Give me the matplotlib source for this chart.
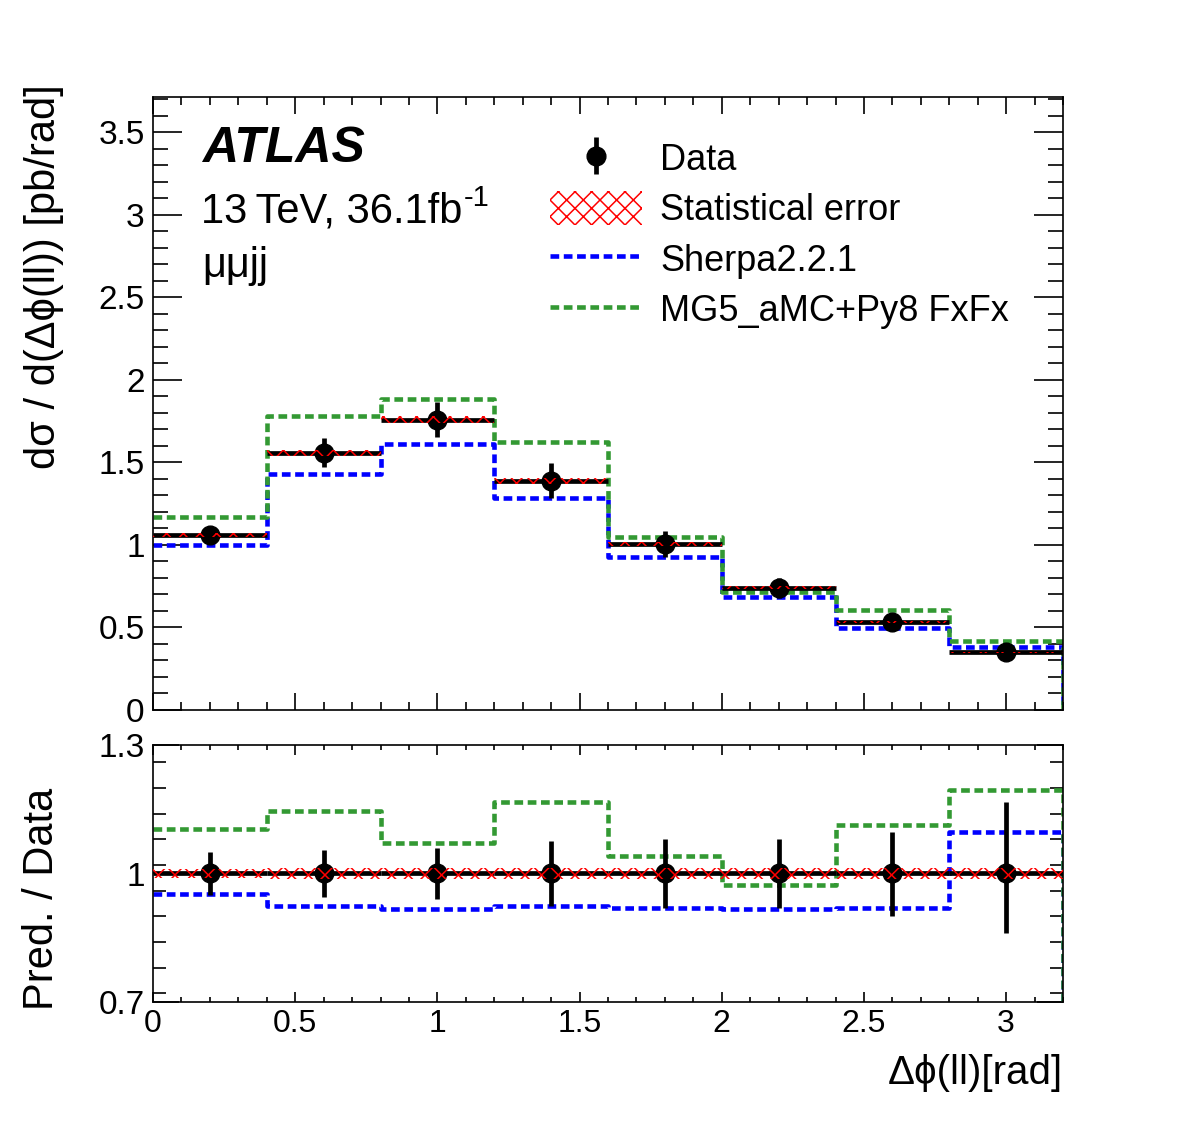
import numpy as np
import matplotlib
matplotlib.use("Agg")
import matplotlib.pyplot as plt
from matplotlib.lines import Line2D
from matplotlib.patches import Patch
from matplotlib.ticker import MultipleLocator

plt.rcParams['font.family'] = ['Liberation Sans', 'DejaVu Sans']
plt.rcParams['hatch.linewidth'] = 1.1

# binning in delta phi(ll)
bin_edges = [0.0, 0.4, 0.8, 1.2, 1.6, 2.0, 2.4, 2.8, 3.2]
bin_centers = [0.2, 0.6, 1.0, 1.4, 1.8, 2.2, 2.6, 3.0]

# measured cross section [pb/rad]
data_xs = [1.06, 1.56, 1.76, 1.39, 1.005, 0.74, 0.535, 0.35]
# total relative uncertainty (down, up)
data_err_dn = [0.051, 0.055, 0.060, 0.077, 0.080, 0.080, 0.100, 0.140]
data_err_up = [0.051, 0.055, 0.060, 0.077, 0.080, 0.080, 0.098, 0.168]
# relative statistical error
stat_rel = [0.010, 0.012, 0.012, 0.013, 0.012, 0.012, 0.012, 0.012]

# predictions [pb/rad]
sherpa_xs = [1.00, 1.43, 1.615, 1.285, 0.927, 0.685, 0.497, 0.38]
mg5_xs = [1.17, 1.78, 1.885, 1.624, 1.05, 0.715, 0.606, 0.418]

# pred / data
sherpa_ratio = [0.951, 0.923, 0.916, 0.923, 0.920, 0.916, 0.920, 1.098]
mg5_ratio = [1.105, 1.145, 1.072, 1.168, 1.040, 0.974, 1.114, 1.196]

blue = '#0000ff'
green = '#339933'
dash = (0, (1.9, 1.0))
LW = 3.3
PHI = '\u03d5'


def hist_line(ax, vals, color):
    # step outline, dropping to zero at the right edge only
    xs = np.r_[bin_edges, bin_edges[-1]]
    ys = np.r_[vals, vals[-1], 0.0]
    ax.plot(xs, ys, drawstyle='steps-post', color=color, lw=LW, ls=dash, zorder=2)


fig = plt.figure(figsize=(11.82, 11.23), dpi=100)
W, H = 1182.0, 1123.0
ax = fig.add_axes([153 / W, 1 - 710 / H, 910 / W, 613 / H])
rax = fig.add_axes([153 / W, 1 - 1002 / H, 910 / W, 257 / H])

edges = np.array(bin_edges)
xc = np.array(bin_centers)
d = np.array(data_xs)
edn = np.array(data_err_dn)
eup = np.array(data_err_up)
st = np.array(stat_rel)

# ---- main panel
hist_line(ax, sherpa_xs, blue)
hist_line(ax, mg5_xs, green)
ax.hlines(d, edges[:-1], edges[1:], color='black', lw=3.4, zorder=3)
data_h = ax.errorbar(xc, d, yerr=[d * edn, d * eup], fmt='o', color='black', ms=13.5,
                     elinewidth=3.4, capsize=0, zorder=5)
for i in range(len(d)):
    ax.fill_between([edges[i], edges[i + 1]], d[i] * (1 - st[i]), d[i] * (1 + st[i]),
                    facecolor='none', edgecolor='red', hatch='xx', lw=0, zorder=6)

ax.set_xlim(0, 3.2)
ax.set_ylim(0, 3.715)
ax.xaxis.set_major_locator(MultipleLocator(0.5))
ax.xaxis.set_minor_locator(MultipleLocator(0.1))
ax.yaxis.set_major_locator(MultipleLocator(0.5))
ax.yaxis.set_minor_locator(MultipleLocator(0.1))
ax.tick_params(axis='both', which='both', direction='in', top=True, right=True,
               labelsize=24, width=1.2)
ax.tick_params(axis='x', which='major', length=12)
ax.tick_params(axis='x', which='minor', length=6)
ax.tick_params(axis='y', which='major', length=21, pad=6)
ax.tick_params(axis='y', which='minor', length=11)
ax.tick_params(axis='x', labelbottom=False)
ax.set_yticks([0, 0.5, 1, 1.5, 2, 2.5, 3, 3.5])
ax.set_yticklabels(['0', '0.5', '1', '1.5', '2', '2.5', '3', '3.5'])
for s in ax.spines.values():
    s.set_linewidth(1.2)

fig.text(44 / W, 1 - 84 / H, 'd\u03c3 / d(\u0394' + PHI + '(ll)) [pb/rad]', rotation=90,
         ha='center', va='top', fontsize=30)


def ax_frac(px, py):
    return (px - 153) / 910.0, 1 - (py - 97) / 613.0


ax.text(*ax_frac(202, 149), 'ATLAS', transform=ax.transAxes,
        fontsize=36, fontweight='bold', fontstyle='italic', va='center', ha='left')
lumi = ax.text(*ax_frac(201, 211), '13\u2009TeV, 36.1fb', transform=ax.transAxes,
               fontsize=30, va='center', ha='left')
ax.annotate('-1', xy=(1.0, 1.0), xycoords=lumi, xytext=(1, 5),
            textcoords='offset points', fontsize=21, ha='left', va='top')
ax.text(*ax_frac(202, 266), '\u03bc\u03bcjj', transform=ax.transAxes,
        fontsize=30, va='center', ha='left')

h_stat = Patch(facecolor='none', edgecolor='red', hatch='xx', lw=0)
h_sherpa = Line2D([], [], color=blue, lw=LW, ls=dash)
h_mg5 = Line2D([], [], color=green, lw=LW, ls=dash)
leg = ax.legend([data_h, h_stat, h_sherpa, h_mg5],
                ['Data', 'Statistical error', 'Sherpa2.2.1', 'MG5_aMC+Py8 FxFx'],
                loc='upper left', bbox_to_anchor=ax_frac(550, 141),
                frameon=False, fontsize=26, handlelength=2.55, handleheight=1.05,
                labelspacing=0.37, handletextpad=0.5, borderaxespad=0, borderpad=0)

# ---- ratio panel
hist_line(rax, sherpa_ratio, blue)
hist_line(rax, mg5_ratio, green)
rax.hlines(np.ones(len(d)), edges[:-1], edges[1:], color='black', lw=3.4, zorder=3)
rax.errorbar(xc, np.ones(len(d)), yerr=[edn, eup], fmt='o', color='black', ms=13.5,
             elinewidth=3.4, capsize=0, zorder=5)
for i in range(len(d)):
    rax.fill_between([edges[i], edges[i + 1]], 1 - st[i], 1 + st[i],
                     facecolor='none', edgecolor='red', hatch='xx', lw=0, zorder=6)

rax.set_xlim(0, 3.2)
rax.set_ylim(0.7, 1.3)
rax.xaxis.set_minor_locator(MultipleLocator(0.1))
rax.yaxis.set_minor_locator(MultipleLocator(0.06))
rax.set_xticks([0, 0.5, 1, 1.5, 2, 2.5, 3])
rax.set_xticklabels(['0', '0.5', '1', '1.5', '2', '2.5', '3'])
rax.set_yticks([0.7, 1.0, 1.3])
rax.set_yticklabels(['0.7', '1', '1.3'])
rax.tick_params(axis='both', which='both', direction='in', top=True, right=True,
                width=1.2)
rax.tick_params(axis='x', which='major', length=7, pad=5, labelsize=23)
rax.tick_params(axis='x', which='minor', length=3.5)
rax.tick_params(axis='y', which='major', length=19, pad=6, labelsize=24)
rax.tick_params(axis='y', which='minor', length=9.5)
for s in rax.spines.values():
    s.set_linewidth(1.2)

fig.text(42 / W, 1 - 1010 / H, 'Pred. / Data', rotation=90, ha='center', va='bottom',
         fontsize=30)
fig.text(1063 / W, 1 - 1073 / H, '\u0394' + PHI + '(ll)[rad]', ha='right', va='center',
         fontsize=29)

fig.savefig('out.png', dpi=100)
